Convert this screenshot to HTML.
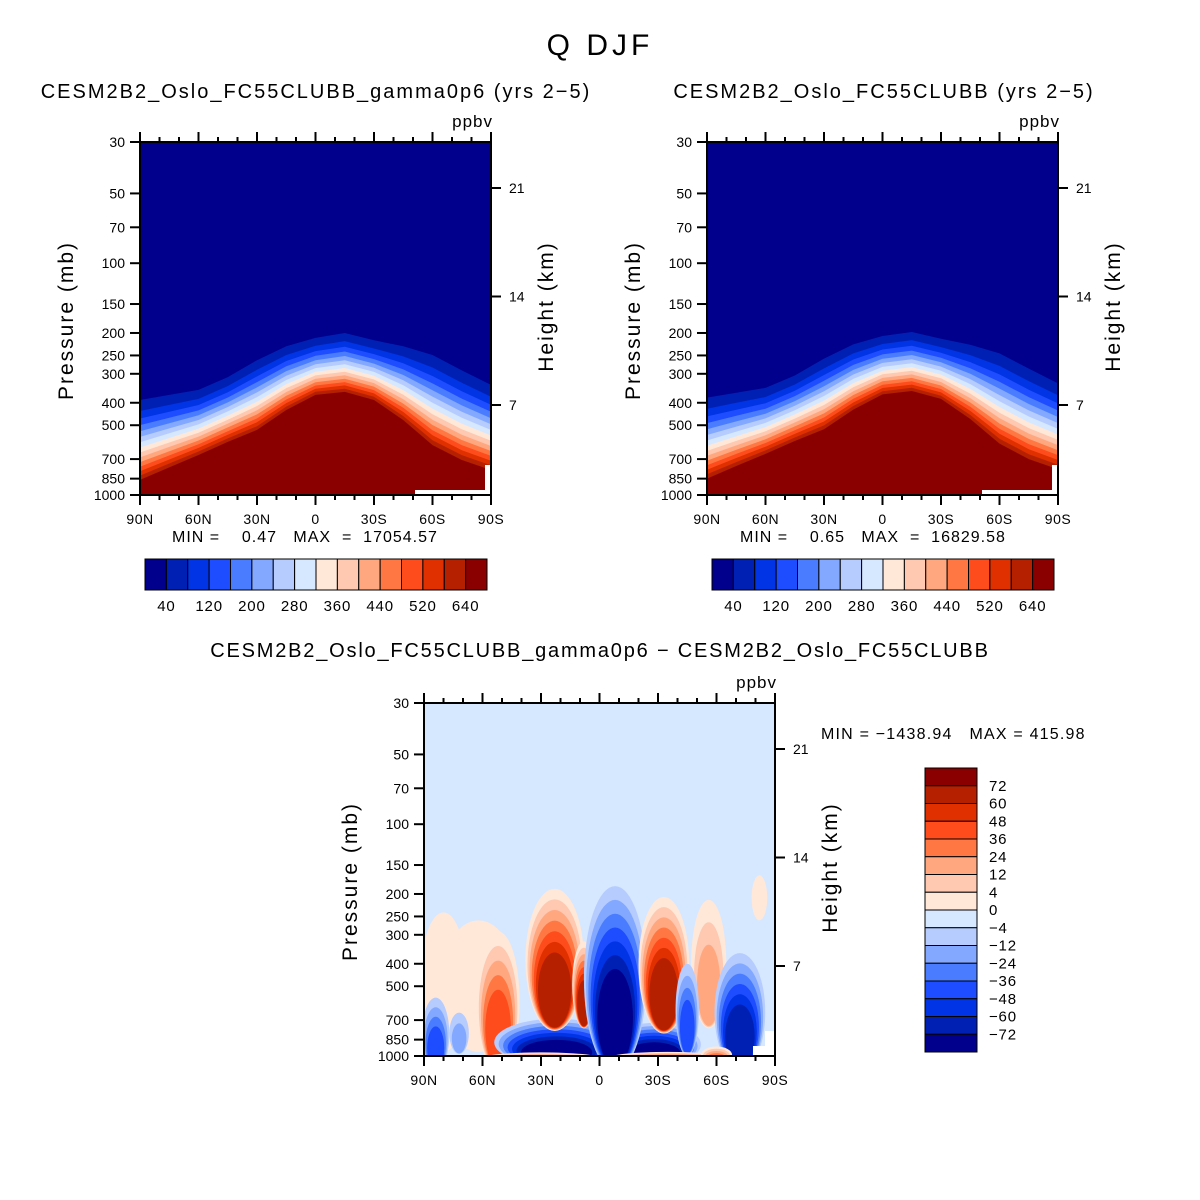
<!DOCTYPE html>
<html><head><meta charset="utf-8"><style>
html,body{margin:0;padding:0;background:#fff;}
svg{display:block;font-family:"Liberation Sans",sans-serif;}
</style></head><body>
<svg id="fig" width="1200" height="1200" viewBox="0 0 1200 1200" xmlns="http://www.w3.org/2000/svg">
<rect width="1200" height="1200" fill="#fff"/>
<text x="600" y="55" font-size="30" text-anchor="middle" letter-spacing="4">Q DJF</text>
</svg>
<script>
// ---- data ----
const palette = ["#00008c","#0020b4","#0034e4","#1e4cff","#4a7cff","#82a8ff","#b6ccff","#d6e8ff","#ffe8d8","#ffc8b0","#ffa880","#ff7844","#ff4c1c","#e03000","#b42000","#8a0000"];
const lats = [90,75,60,45,30,15,0,-15,-30,-45,-60,-75,-90];
// panel 1: pressure (hPa) of the 40 ppbv contour (top of transition) and of the top of the max band
const p1Blue = [389,370,352,310,262,228,210,200,215,228,249,290,335];
const p1Red  = [861,760,672,590,524,430,370,359,389,475,609,706,780];
const p2Blue = [380,362,345,305,258,224,206,198,212,225,245,285,330];
const p2Red  = [850,750,665,585,520,428,368,356,385,470,600,700,775];
const pTicks = [30,50,70,100,150,200,250,300,400,500,700,850,1000];
const hTicks = [7,14,21];
const latTickVals = [90,60,30,0,-30,-60,-90];
const latTickLabels = ["90N","60N","30N","0","30S","60S","90S"];
const cbLabelsTop = ["40","120","200","280","360","440","520","640"];
const cbLabelsDiff = ["72","60","48","36","24","12","4","0","\u22124","\u221212","\u221224","\u221236","\u221248","\u221260","\u221272"];
// difference blobs: centre latitude, top pressure, bottom pressure, half-width (deg), peak level (+/- bands)
const blobLat  = [62, 80, 84, 72, 52, 22, -28, 23, 8, -8, -33, -56, -72, -82, -45, 30, -35, -60];
const blobTop  = [260,240,560,650,290,690,720,190,320,185,206,212,360,166,400,965,960,910];
const blobBot  = [960,960,1060,980,1060,1040,1040,780,760,1060,800,760,1060,260,1000,1030,1030,1030];
const blobHW   = [20, 12, 7, 5, 11, 32, 24, 15, 6, 16, 13, 9, 13, 4, 6, 30, 30, 8];
const blobPeak = [1, 1, -4, -2, 5, -7, -7, 7, 7, -7, 7, 3, -6, 1, -4, 6, 6, 4];

// ---- helpers ----
const NS="http://www.w3.org/2000/svg";
const svg=document.getElementById('fig');
function el(tag,attrs,parent){const e=document.createElementNS(NS,tag);for(const k in attrs)e.setAttribute(k,attrs[k]);(parent||svg).appendChild(e);return e;}
const W=351,H=353;
function yP(p,oy){return oy+H*Math.log(p/30)/Math.log(1000/30);}
function xL(lat,ox){return ox+(90-lat)/180*W;}
function yH(z,oy){return oy+263-(z-7)*15.5;}

function axes(ox,oy,pid){
  const g=el('g',{});
  
  
  el('rect',{x:ox,y:oy,width:W,height:H,fill:'none',stroke:'#000','stroke-width':2},g);
  for(let l=90;l>=-90;l-=10){
    const x=xL(l,ox); const major=(l%30===0);
    el('line',{x1:x,y1:oy,x2:x,y2:oy-(major?10:5),stroke:'#000','stroke-width':2},g);
    el('line',{x1:x,y1:oy+H,x2:x,y2:oy+H+(major?10:5),stroke:'#000','stroke-width':2},g);
  }
  latTickVals.forEach((l,i)=>{
    const t=el('text',{x:xL(l,ox),y:oy+H+29,'font-size':14,'text-anchor':'middle','letter-spacing':'0.5'},g);
    t.textContent=latTickLabels[i];
    
    
  });
  pTicks.forEach(p=>{
    const y=yP(p,oy);
    el('line',{x1:ox-10,y1:y,x2:ox,y2:y,stroke:'#000','stroke-width':2},g);
    const t=el('text',{x:ox-15,y:y+5,'font-size':14,'text-anchor':'end'},g);
    t.textContent=p;
    
    
  });
  hTicks.forEach(z=>{
    const y=yH(z,oy);
    el('line',{x1:ox+W,y1:y,x2:ox+W+10,y2:y,stroke:'#000','stroke-width':2},g);
    const t=el('text',{x:ox+W+18,y:y+5,'font-size':14},g);
    t.textContent=z;
    
    
  });
  const yt=el('text',{x:0,y:0,'font-size':21,'text-anchor':'middle',transform:`translate(${ox-67},${oy+H/2+2}) rotate(-90)`,'letter-spacing':'2'},g);
  yt.textContent='Pressure (mb)';
  
  
  const ht=el('text',{x:0,y:0,'font-size':21,'text-anchor':'middle',transform:`translate(${ox+W+62},${oy+H/2-12}) rotate(-90)`,'letter-spacing':'2'},g);
  ht.textContent='Height (km)';
  
  
  const u=el('text',{x:ox+W+2,y:oy-15,'font-size':17,'text-anchor':'end','letter-spacing':'1'},g);
  u.textContent='ppbv';
  
  
}

function fieldPanel(ox,oy,pBlue,pRed,pid){
  const g=el('g',{});
  
  
  el('rect',{x:ox,y:oy,width:W,height:H,fill:palette[0]},g);
  for(let j=1;j<16;j++){
    const t=Math.pow((j-1)/14,0.75);
    let pts=[];
    lats.forEach((l,i)=>{
      const yb=yP(pBlue[i],oy), yr=yP(pRed[i],oy);
      pts.push(xL(l,ox).toFixed(1)+','+(yb+(yr-yb)*t).toFixed(1));
    });
    pts.push(xL(-90,ox)+','+(oy+H)); pts.push(xL(90,ox)+','+(oy+H));
    const poly=el('polygon',{points:pts.join(' '),fill:palette[j]},g);
    
    
  }
  el('rect',{x:ox+275,y:oy+H-5,width:W-275,height:5,fill:'#fff'},g);
  el('rect',{x:ox+W-6,y:oy+H-30,width:6,height:30,fill:'#fff'},g);
}

function hbar(x0,y0,pid){
  const g=el('g',{});
  
  
  const bw=342/16;
  palette.forEach((c,i)=>{
    el('rect',{x:x0+i*bw,y:y0,width:bw,height:31,fill:c,stroke:'#000','stroke-width':1},g);
  });
  cbLabelsTop.forEach((s,i)=>{
    const t=el('text',{x:x0+bw*(1+2*i),y:y0+52,'font-size':15,'text-anchor':'middle','letter-spacing':'0.8'},g);
    t.textContent=s;
    
    
  });
}

function text(x,y,s,size,name,anchor,ls){
  const t=el('text',{x:x,y:y,'font-size':size,'text-anchor':anchor||'start','letter-spacing':ls||'1'});
  t.textContent=s;
  
  
  t.style.whiteSpace='pre';
  return t;
}

// panel 1
fieldPanel(140,142,p1Blue,p1Red,'panel1');
axes(140,142,'panel1');
text(316,98,'CESM2B2_Oslo_FC55CLUBB_gamma0p6 (yrs 2\u22125)',20,'panel1-title','middle','2');
text(172,542,'MIN =    0.47   MAX  =  17054.57',16,'panel1-min-max','start','1');
hbar(145,559,'panel1');
// panel 2
fieldPanel(707,142,p2Blue,p2Red,'panel2');
axes(707,142,'panel2');
text(884,98,'CESM2B2_Oslo_FC55CLUBB (yrs 2\u22125)',20,'panel2-title','middle','2');
text(740,542,'MIN =    0.65   MAX  =  16829.58',16,'panel2-min-max','start','1');
hbar(712,559,'panel2');

// panel 3 difference
(function(){
  const ox=424,oy=703;
  const clip=el('clipPath',{id:'c3'});
  el('rect',{x:ox,y:oy,width:W,height:H},clip);
  const g=el('g',{'clip-path':'url(#c3)'});
  
  
  el('rect',{x:ox,y:oy,width:W,height:H,fill:palette[7]},g);
  blobLat.forEach((lat,i)=>{
    const n=Math.abs(blobPeak[i]), s=Math.sign(blobPeak[i]);
    const yT=yP(blobTop[i],oy), yB=yP(Math.min(blobBot[i],1000),oy)+(blobBot[i]>1000?(blobBot[i]-1000)/4:0);
    const cx=xL(lat,ox), rx0=blobHW[i]/180*W, ry0=(yB-yT)/2;
    for(let k=1;k<=n;k++){
      const fy=1-(k-1)/n*0.55, fx=1-(k-1)/n*0.5;
      const ry=ry0*fy;
      const e=el('ellipse',{cx:cx,cy:yB-ry*0.9-ry0*0.1,rx:rx0*fx,ry:ry,fill:palette[7+s*k]},g);
      
      
    }
  });
  el('rect',{x:ox+W-10,y:oy+H-25,width:10,height:25,fill:'#fff'},g);
  el('rect',{x:ox+W-22,y:oy+H-10,width:22,height:10,fill:'#fff'},g);
  axes(ox,oy,'panel3');
  text(600,657,'CESM2B2_Oslo_FC55CLUBB_gamma0p6 \u2212 CESM2B2_Oslo_FC55CLUBB',20,'panel3-title','middle','1.8');
  text(821,739,'MIN = \u22121438.94   MAX = 415.98',16,'panel3-min-max','start','1.2');
  const cb=el('g',{});
  
  
  const bh=284/16;
  for(let i=0;i<16;i++){
    el('rect',{x:925,y:768+i*bh,width:52,height:bh,fill:palette[15-i],stroke:'#000','stroke-width':1},cb);
  }
  cbLabelsDiff.forEach((s,i)=>{
    const t=el('text',{x:989,y:768+bh*(i+1)+5,'font-size':15,'letter-spacing':'0.8'},cb);
    t.textContent=s;
    
    
  });
})();
</script>
</body></html>
